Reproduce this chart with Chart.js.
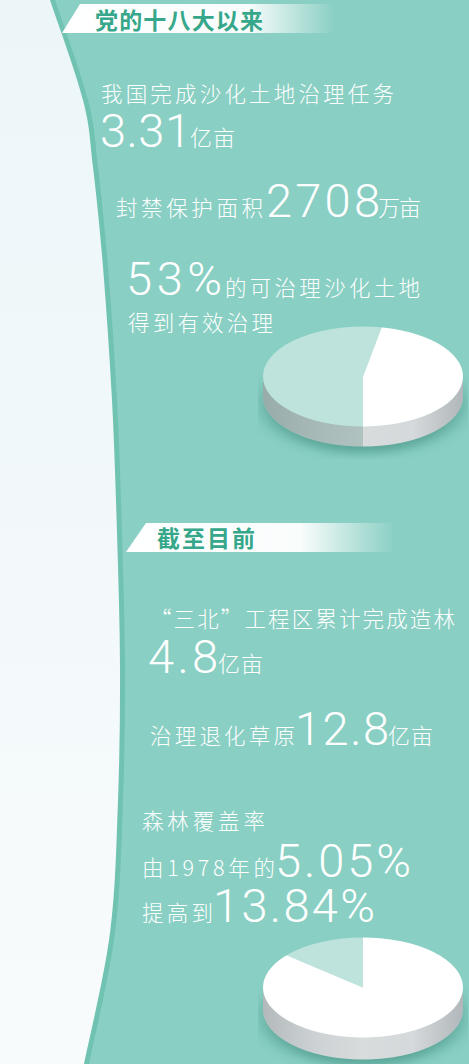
<!DOCTYPE html>
<html>
<head>
<meta charset="utf-8">
<script src="https://cdn.jsdelivr.net/npm/chart.js@4.4.1/dist/chart.umd.min.js"></script>
<style>
html, body { margin: 0; padding: 0; width: 469px; height: 1064px; overflow: hidden; background: #f3f9fb; }
#bg { position: absolute; left: 0; top: 0; }
.pie { position: absolute; transform: scaleY(0.5); transform-origin: 0 0; }
text { fill: #fff; font-family: "Noto Sans CJK SC", sans-serif; font-weight: 300; font-size: 21.5px; }
text.num { font-family: Roboto, "Open Sans", sans-serif; font-weight: 300; font-size: 47px; }
text.unit { font-size: 22px; }
text.head { fill: #36a78a; font-weight: bold; font-size: 23px; }
</style>
</head>
<body>
<svg id="bg" width="469" height="1064" lang="zh-CN">
  <defs>
    <linearGradient id="left" x1="0" y1="0" x2="0" y2="1">
      <stop offset="0" stop-color="#ecf6f9"/>
      <stop offset="1" stop-color="#f8fbfc"/>
    </linearGradient>
    <linearGradient id="band1" gradientUnits="userSpaceOnUse" x1="62" y1="0" x2="335" y2="0">
      <stop offset="0" stop-color="#fff"/>
      <stop offset="0.68" stop-color="#fff" stop-opacity="0.95"/>
      <stop offset="1" stop-color="#fff" stop-opacity="0"/>
    </linearGradient>
    <linearGradient id="band2" gradientUnits="userSpaceOnUse" x1="126" y1="0" x2="395" y2="0">
      <stop offset="0" stop-color="#fff"/>
      <stop offset="0.65" stop-color="#fff" stop-opacity="0.95"/>
      <stop offset="1" stop-color="#fff" stop-opacity="0"/>
    </linearGradient>
  </defs>
  <rect width="469" height="1064" fill="url(#left)"/>
  <path id="edge" fill="#70c2b1"/>
  <path id="teal" fill="#89cfc3"/>
  <polygon points="62,33 80,4 335,4 335,33" fill="url(#band1)"/>
  <polygon points="126,552 146,523 395,523 395,552" fill="url(#band2)"/>

  <text class="head" x="95" y="29" textLength="168">党的十八大以来</text>
  <text x="101" y="102" textLength="293">我国完成沙化土地治理任务</text>
  <text class="num" x="100" y="147" textLength="91">3.31</text>
  <text class="unit" x="190" y="146" textLength="45">亿亩</text>

  <text x="116" y="216" textLength="147">封禁保护面积</text>
  <text class="num" x="266" y="217" textLength="114">2708</text>
  <text class="unit" x="378" y="216" textLength="43">万亩</text>

  <text class="num" x="126" y="295" textLength="96">53%</text>
  <text x="225" y="296" textLength="195">的可治理沙化土地</text>
  <text x="128" y="331" textLength="145">得到有效治理</text>

  <text class="head" x="157" y="547" textLength="98">截至目前</text>
  <text x="150" y="627" textLength="305">“三北”工程区累计完成造林</text>
  <text class="num" x="148" y="673" textLength="70">4.8</text>
  <text class="unit" x="218" y="672" textLength="45">亿亩</text>

  <text x="150" y="744" textLength="145">治理退化草原</text>
  <text class="num" x="295" y="745" textLength="94">12.8</text>
  <text class="unit" x="388" y="744" textLength="45">亿亩</text>

  <text x="142" y="829" textLength="123">森林覆盖率</text>
  <text x="142" y="876" textLength="133">由1978年的</text>
  <text class="num" x="275" y="877" textLength="136">5.05%</text>
  <text x="142" y="921" textLength="71">提高到</text>
  <text class="num" x="213" y="922" textLength="162">13.84%</text>
</svg>

<canvas id="pie1" class="pie" width="210" height="270" style="left:258px;top:323.5px"></canvas>
<canvas id="pie2" class="pie" width="210" height="270" style="left:258px;top:934.5px"></canvas>

<script>
// 沙化土地治理比例
const desertLabels = ['已有效治理', '其他']
const desertShare = [53, 47]

// 森林覆盖率
const forestLabels = ['其他', '森林覆盖']
const forestShare = [86.16, 13.84]

const paleTeal = '#bde3dc'

// left edge of the teal panel
const edgePts = [[50, 0], [83, 100], [93, 167], [103, 267], [112, 400], [117, 533], [120, 667], [118, 800], [110, 933], [84, 1064]]

function edgePath(dx) {
    const p = edgePts.map(([x, y]) => [x + dx, y])
    let d = `M${p[0][0]},${p[0][1]}`
    for (let i = 0; i < p.length - 1; i++) {
        const p0 = p[i - 1] || p[i], p1 = p[i], p2 = p[i + 1], p3 = p[i + 2] || p[i + 1]
        const c1 = [p1[0] + (p2[0] - p0[0]) / 6, p1[1] + (p2[1] - p0[1]) / 6]
        const c2 = [p2[0] - (p3[0] - p1[0]) / 6, p2[1] - (p3[1] - p1[1]) / 6]
        d += ` C${c1[0]},${c1[1]} ${c2[0]},${c2[1]} ${p2[0]},${p2[1]}`
    }
    return d + ' L469,1064 L469,0 Z'
}
document.getElementById('edge').setAttribute('d', edgePath(0))
document.getElementById('teal').setAttribute('d', edgePath(5))

// draws the side wall of the pie (canvas is squashed by css to look tilted)
const pieSide = {
    id: 'pieSide',
    beforeDatasetsDraw(chart, args, opts) {
        const ctx = chart.ctx
        const arcs = chart.getDatasetMeta(0).data
        if (!arcs.length) return
        const { x, y, outerRadius: r } = arcs[0].getProps(['x', 'y', 'outerRadius'], true)
        const T = opts.depth

        ctx.save()
        ctx.shadowColor = 'rgba(40,120,105,0.45)'
        ctx.shadowBlur = 18
        ctx.shadowOffsetY = 14
        ctx.fillStyle = '#9fc9c1'
        ctx.beginPath()
        ctx.arc(x, y + T, r, 0, Math.PI * 2)
        ctx.fill()
        ctx.restore()

        arcs.forEach((arc, i) => {
            const { startAngle, endAngle } = arc.getProps(['startAngle', 'endAngle'], true)
            for (let k = -1; k <= 2; k++) {
                const a = Math.max(startAngle, k * 2 * Math.PI)
                const b = Math.min(endAngle, k * 2 * Math.PI + Math.PI)
                if (b <= a) continue
                const g = ctx.createLinearGradient(x - r, 0, x + r, 0)
                const stops = opts.sides[i]
                stops.forEach((c, j) => g.addColorStop(j / (stops.length - 1), c))
                ctx.fillStyle = g
                ctx.beginPath()
                ctx.arc(x, y, r, a, b)
                ctx.arc(x, y + T, r, b, a, true)
                ctx.closePath()
                ctx.fill()
            }
        })
    }
}

const tealSide = ['#98aca9', '#a6b9b6', '#b0c3c0', '#b0c3c0', '#a6b9b6']
const whiteSide = ['#b4babc', '#cdd1d3', '#d9dcdd', '#d6d9db', '#b1b7ba']

function makePie(id, labels, values, colors, rotation, depth, sides) {
    return new Chart(document.getElementById(id), {
        type: 'pie',
        data: {
            labels: labels,
            datasets: [{
                data: values,
                backgroundColor: colors,
                borderWidth: 0,
                hoverOffset: 0
            }]
        },
        options: {
            responsive: false,
            animation: false,
            devicePixelRatio: 1,
            events: [],
            rotation: rotation,
            layout: { padding: { left: 5, right: 5, top: 5, bottom: 65 } },
            plugins: {
                legend: { display: false },
                tooltip: { enabled: false },
                pieSide: { depth: depth, sides: sides }
            }
        },
        plugins: [pieSide]
    })
}

makePie('pie1', desertLabels, desertShare, [paleTeal, '#ffffff'], 180, 40, [tealSide, whiteSide])
makePie('pie2', forestLabels, forestShare, ['#ffffff', paleTeal], 0, 44, [whiteSide, tealSide])
</script>
</body>
</html>
